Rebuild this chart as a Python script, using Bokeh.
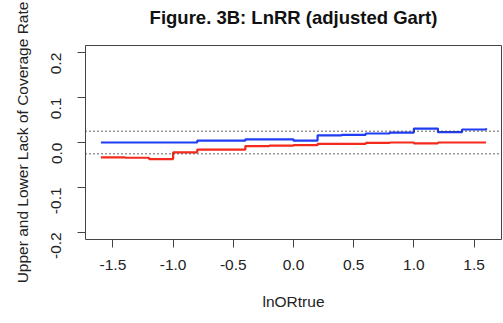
from bokeh.plotting import figure
from bokeh.models import FixedTicker, PrintfTickFormatter, Span, Range1d, Title
from bokeh.embed import file_html
from bokeh.resources import INLINE
import math

# True log odds ratio grid
ln_or_true = [-1.6, -1.4, -1.2, -1.0, -0.8, -0.6, -0.4, -0.2, 0.0,
              0.2, 0.4, 0.6, 0.8, 1.0, 1.2, 1.4, 1.6]

# Upper lack of coverage rate (blue) and lower (red, plotted negative)
upper_lack = [0.000, 0.000, 0.000, 0.000, 0.004, 0.004, 0.007, 0.007, 0.004,
              0.016, 0.017, 0.020, 0.022, 0.031, 0.023, 0.029, 0.032]
lower_lack = [-0.033, -0.034, -0.037, -0.022, -0.016, -0.016, -0.008, -0.007, -0.006,
              -0.003, -0.003, -0.001, 0.000, -0.002, 0.000, 0.000, 0.000]

# Nominal one-sided tolerance band
tolerance = [0.025, -0.025]

x_ticks = [-1.5, -1.0, -0.5, 0.0, 0.5, 1.0, 1.5]
y_ticks = [-0.2, -0.1, 0.0, 0.1, 0.2]

title_text = "Figure. 3B: LnRR (adjusted Gart)"

FONT = "Liberation Sans"

p = figure(width=503, height=323, output_backend="svg", toolbar_location=None,
           title=None,
           x_range=Range1d(-1.728, 1.728), y_range=Range1d(-0.216, 0.216),
           min_border_left=85, min_border_right=2, min_border_top=45,
           min_border_bottom=84)

# A thin blank strip between the frame and the title lifts the title up
p.add_layout(Title(text=" ", text_font_size="1px", standoff=6), "above")
p.add_layout(Title(text=title_text, align="center", vertical_align="top",
                   text_font=FONT, text_font_size="18.5px", text_font_style="bold",
                   text_color="#111111", standoff=13), "above")

p.background_fill_color = "white"
p.border_fill_color = "white"
p.outline_line_color = "#444444"
p.outline_line_width = 1
p.xgrid.visible = False
p.ygrid.visible = False

for ax in (p.xaxis[0], p.yaxis[0]):
    ax.axis_line_color = None
    ax.major_tick_line_color = "#444444"
    ax.major_tick_out = 8
    ax.major_tick_in = 0
    ax.minor_tick_line_color = None
    ax.major_label_text_font = FONT
    ax.major_label_text_font_size = "15.5px"
    ax.major_label_text_color = "#222222"
    ax.axis_label_text_font = FONT
    ax.axis_label_text_font_size = "15.5px"
    ax.axis_label_text_font_style = "normal"
    ax.axis_label_text_color = "#222222"
    ax.formatter = PrintfTickFormatter(format="%.1f")

p.xaxis.ticker = FixedTicker(ticks=x_ticks)
p.yaxis.ticker = FixedTicker(ticks=y_ticks)
p.xaxis.axis_label = "lnORtrue"
p.yaxis.axis_label = "Upper and Lower Lack of Coverage Rate"
p.xaxis.major_label_standoff = 12
p.xaxis.axis_label_standoff = 20
p.yaxis.major_label_standoff = 21
p.yaxis.axis_label_standoff = 13
p.yaxis.major_label_orientation = math.pi / 2

for t in tolerance:
    p.add_layout(Span(location=t, dimension="width", line_color="#333333",
                      line_width=1.5, line_dash="1 3"))

p.step(ln_or_true, upper_lack, mode="after", line_color="#1f3df2", line_width=2.2)
p.step(ln_or_true, lower_lack, mode="after", line_color="#f42a1c", line_width=2.2)

open("out.html", "w").write(file_html(p, INLINE))
